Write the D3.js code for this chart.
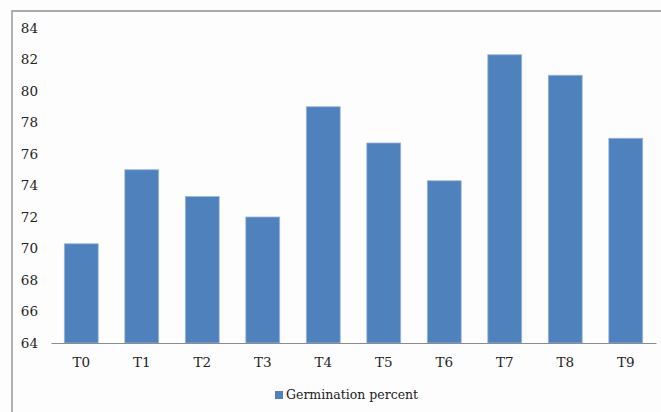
<!DOCTYPE html>
<html>
<head>
<meta charset="utf-8">
<script src="https://cdn.jsdelivr.net/npm/d3@7"></script>
<style>
  html, body { margin: 0; padding: 0; background: #fdfdfd; }
  svg { display: block; }
  svg text { font-family: "DejaVu Serif", "Liberation Serif", serif; fill: #222; }
</style>
</head>
<body>
<svg id="chart" width="661" height="412"></svg>
<script>
// Germination percent per treatment
const categories = ["T0", "T1", "T2", "T3", "T4", "T5", "T6", "T7", "T8", "T9"];
const germination = [70.3, 75.0, 73.3, 72.0, 79.0, 76.7, 74.3, 82.3, 81.0, 77.0];
const yTicks = [64, 66, 68, 70, 72, 74, 76, 78, 80, 82, 84];
const seriesName = "Germination percent";

const W = 661, H = 412;
const plot = { left: 51, right: 656, top: 28, bottom: 343 };
const barColor = "#4f81bd";
const fontSize = 13.5;

const svg = d3.select("#chart");

// outer chart frame (only top and left edges fall inside the view)
svg.append("path")
  .attr("d", `M12,${H + 2} L12,11 L${W + 2},11`)
  .attr("fill", "none")
  .attr("stroke", "#aaaaaa")
  .attr("stroke-width", 1.8);

const x = d3.scaleBand()
  .domain(categories)
  .range([plot.left, plot.right])
  .paddingInner(0.44)
  .paddingOuter(0.22);

const y = d3.scaleLinear()
  .domain([64, 84])
  .range([plot.bottom, plot.top]);

// bars
svg.append("g")
  .selectAll("rect")
  .data(categories.map((c, i) => ({ c, v: germination[i] })))
  .join("rect")
  .attr("x", d => x(d.c))
  .attr("y", d => y(d.v))
  .attr("width", x.bandwidth())
  .attr("height", d => y(64) - y(d.v))
  .attr("fill", barColor)
  .attr("stroke", "#9ab6da")
  .attr("stroke-width", 0.8);

// y axis: labels only
const yAxis = svg.append("g")
  .attr("transform", `translate(${plot.left},0)`)
  .call(d3.axisLeft(y).tickValues(yTicks).tickSize(0).tickPadding(13));
yAxis.attr("font-family", null).attr("font-size", null);
yAxis.select(".domain").remove();
yAxis.selectAll("text").style("font-size", fontSize + "px");

// x axis
const xAxis = svg.append("g")
  .attr("transform", `translate(0,${plot.bottom})`)
  .call(d3.axisBottom(x).tickSize(0).tickPadding(14));
xAxis.attr("font-family", null).attr("font-size", null);
xAxis.select(".domain")
  .attr("stroke", "#8c8c8c")
  .attr("stroke-width", 1);
xAxis.selectAll("text").style("font-size", fontSize + "px");

// legend
const legend = svg.append("g").attr("transform", "translate(275,391)");
legend.append("rect")
  .attr("x", 0).attr("y", 0)
  .attr("width", 8).attr("height", 8)
  .attr("fill", barColor);
legend.append("text")
  .attr("x", 11).attr("y", 4)
  .attr("dy", "0.35em")
  .style("font-size", "12.5px")
  .text(seriesName);
</script>
</body>
</html>
